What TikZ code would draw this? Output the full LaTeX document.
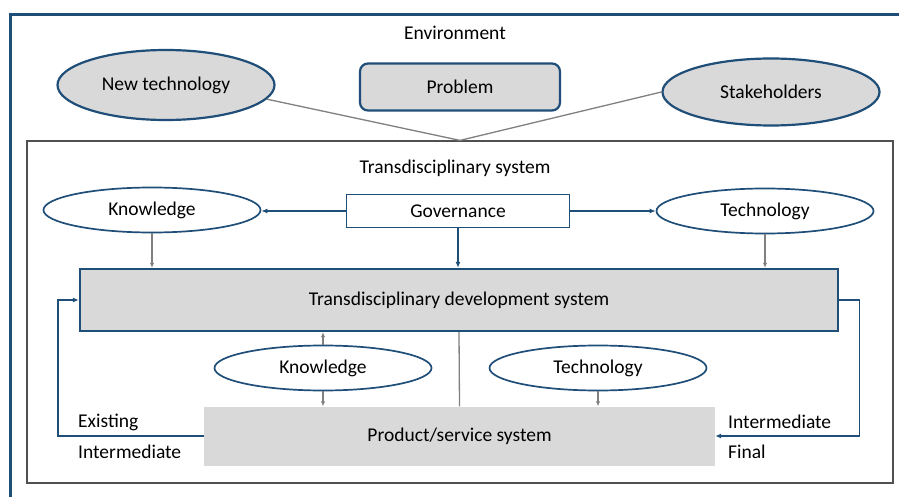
\documentclass[tikz,border=0pt]{standalone}
\usepackage{fontspec}
\setmainfont{Carlito}
\usetikzlibrary{shapes.geometric,arrows.meta}
\definecolor{dblue}{RGB}{31,78,121}
\definecolor{lgray}{RGB}{217,217,217}
\definecolor{gline}{RGB}{128,128,128}
\definecolor{fline}{RGB}{80,80,80}
\begin{document}
\begin{tikzpicture}[x=1pt,y=-1pt,
  font=\fontsize{19.5}{23}\selectfont,
  bigell/.style={ellipse, draw=dblue, line width=2.2pt, fill=lgray, inner sep=0pt, minimum width=217pt, minimum height=70pt},
  smell/.style={ellipse, draw=dblue, line width=1.7pt, fill=white, inner sep=0pt, minimum width=217pt, minimum height=45pt},
  barrow/.style={draw=dblue, line width=1.4pt, -{Latex[length=6pt,width=5pt]}},
  garrow/.style={draw=gline, line width=1.2pt, -{Latex[length=5pt,width=4.5pt]}},
  gline/.style={draw=gline, line width=1.3pt},
  lbl/.style={inner sep=0pt, anchor=west}]
\useasboundingbox (0,0) rectangle (899,497);
\fill[white] (0,0) rectangle (899,497);
\begin{scope}
\clip (0,0) rectangle (899,497);
\draw[dblue, line width=3pt] (10,15) rectangle (910,510);
\end{scope}
\node (envlabel) at (455,33) {Environment};
\node[bigell] (newtech) at (166,85) {New technology};
\node[draw=dblue, line width=2.2pt, fill=lgray, rounded corners=8pt, minimum width=200pt, minimum height=47pt, inner sep=0pt] (problem) at (460,87) {Problem};
\node[bigell, minimum height=67pt] (stake) at (771,92) {Stakeholders};
\node[draw=fline, line width=1.2pt, minimum width=866pt, minimum height=342pt, inner sep=0pt] (tsys) at (460,312) {};
\draw[gline] (newtech.-8) -- (tsys.north);
\draw[gline] (stake.west) -- (tsys.north);
\node (tsyslabel) at (455,168) {Transdisciplinary system};
\node[smell] (k1) at (152,210) {Knowledge};
\node[draw=dblue, line width=1.4pt, minimum width=223pt, minimum height=33pt, inner sep=0pt] (gov) at (458,211) {Governance};
\node[smell] (t1) at (765,211) {Technology};
\node[draw=dblue, line width=2.4pt, fill=lgray, minimum width=758pt, minimum height=62pt, inner sep=0pt] (tds) at (459,300) {Transdisciplinary development system};
\node[smell] (k2) at (323,368) {Knowledge};
\node[smell] (t2) at (598,368) {Technology};
\node[fill=lgray, minimum width=511pt, minimum height=59pt, inner sep=0pt] (pss) at (459.5,436) {Product/service system};
\draw[barrow] (gov.west) -- (gov.west -| k1.east);
\draw[barrow] (gov.east) -- (gov.east -| t1.west);
\draw[barrow] (gov.south) -- (gov.south |- tds.north);
\draw[garrow] (k1.south) -- (k1.south |- tds.north);
\draw[garrow] (t1.south) -- (t1.south |- tds.north);
\draw[garrow] (k2.north) -- (k2.north |- tds.south);
\draw[garrow] (k2.south) -- (k2.south |- pss.north);
\draw[garrow] (t2.south) -- (t2.south |- pss.north);
\draw[gline] (tds.south) -- (pss.north);
\draw[barrow] (pss.west) -- ++(-146,0) |- (tds.west);
\draw[barrow] (tds.east) -- ++(20,0) |- (pss.east);
\node[lbl] (exist) at (78,422) {Existing};
\node[lbl] (interl) at (78,452) {Intermediate};
\node[lbl] (interr) at (728,422) {Intermediate};
\node[lbl] (final) at (728,452) {Final};
\end{tikzpicture}
\end{document}
